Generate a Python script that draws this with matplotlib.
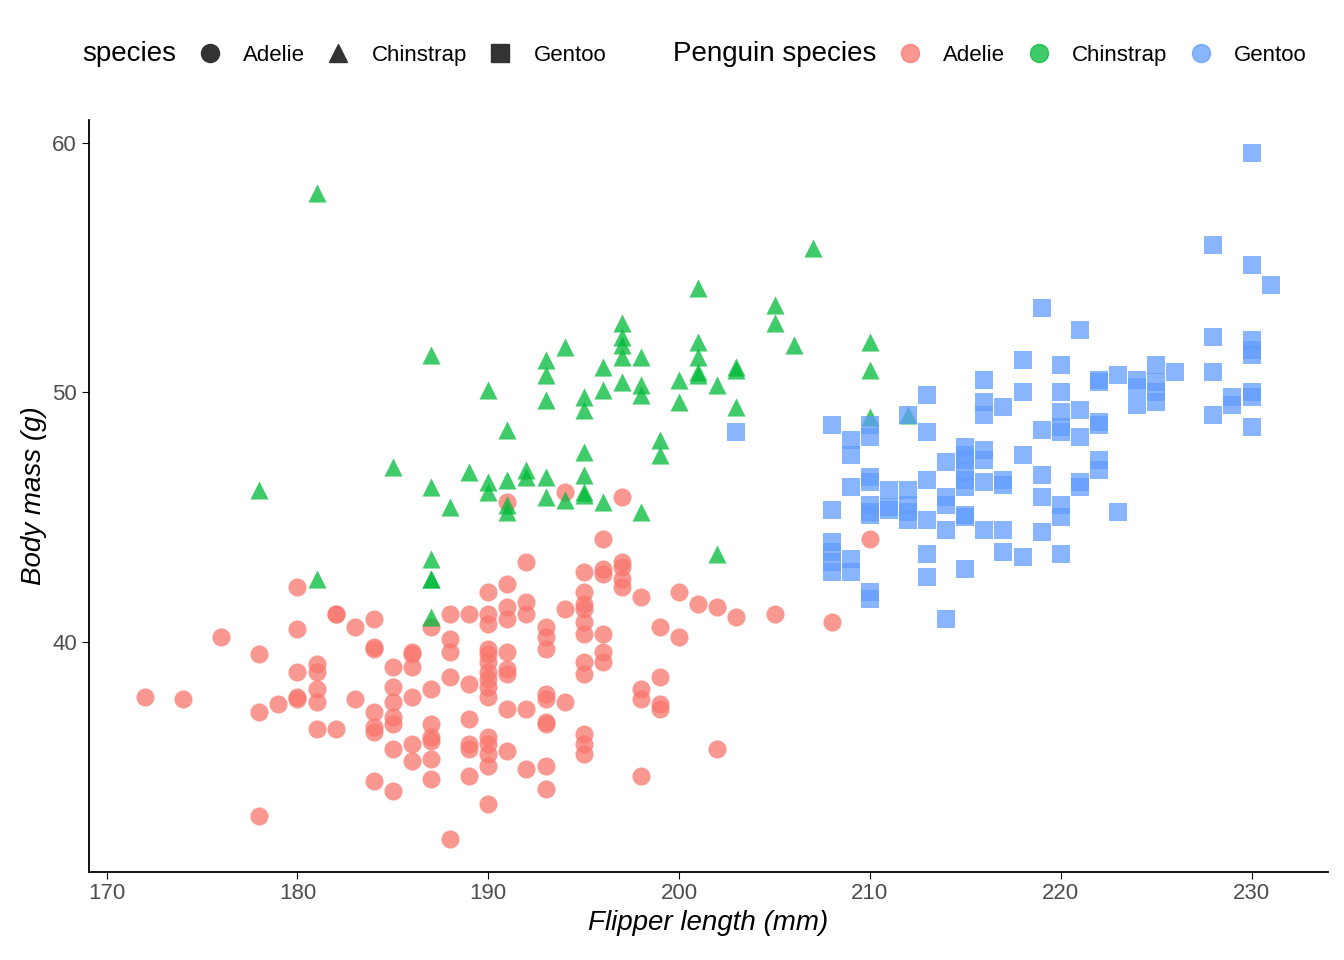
import numpy as np
import matplotlib.pyplot as plt
from matplotlib.lines import Line2D

plt.rcParams['font.family'] = ['Liberation Sans', 'DejaVu Sans']

adelie = [(172,37.8),(174,37.7),(176,40.2),(178,39.5),(178,37.2),(178,33.0),(179,37.5),(180,42.2),(180,40.5),(180,38.8),(180,37.8),(180,37.7),(181,39.1),(181,38.8),(181,38.1),(181,37.6),(181,36.5),(182,41.1),(182,41.1),(182,36.5),(183,40.6),(183,37.7),(184,40.9),(184,39.8),(184,39.7),(184,37.2),(184,36.6),(184,36.4),(184,34.4),(185,39.0),(185,38.2),(185,37.6),(185,37.0),(185,36.7),(185,35.7),(185,34.0),(186,39.6),(186,39.5),(186,39.0),(186,37.8),(186,35.9),(186,35.2),(187,40.6),(187,38.1),(187,36.7),(187,36.2),(187,36.0),(187,35.3),(187,34.5),(188,41.1),(188,40.1),(188,39.6),(188,38.6),(188,32.1),(189,41.1),(189,38.3),(189,36.9),(189,35.9),(189,35.7),(189,34.6),(190,42.0),(190,41.1),(190,40.7),(190,39.7),(190,39.5),(190,39.2),(190,38.8),(190,38.5),(190,38.2),(190,37.8),(190,36.2),(190,35.9),(190,35.5),(190,35.0),(190,33.5),(191,45.6),(191,42.3),(191,41.4),(191,40.9),(191,39.6),(191,38.9),(191,38.7),(191,37.3),(191,35.6),(192,43.2),(192,41.6),(192,41.1),(192,37.3),(192,34.9),(193,40.6),(193,40.2),(193,39.7),(193,37.9),(193,37.7),(193,36.8),(193,36.7),(193,35.0),(193,34.1),(194,46.0),(194,41.3),(194,37.6),(195,42.8),(195,42.0),(195,41.5),(195,41.3),(195,40.8),(195,40.3),(195,39.2),(195,38.7),(195,36.3),(195,35.9),(195,35.5),(196,44.1),(196,42.9),(196,42.7),(196,40.3),(196,39.6),(196,39.2),(197,45.8),(197,43.2),(197,43.0),(197,42.5),(197,42.2),(198,41.8),(198,38.1),(198,37.7),(198,34.6),(199,40.6),(199,38.6),(199,37.5),(199,37.3),(200,42.0),(200,40.2),(201,41.5),(202,41.4),(202,35.7),(203,41.0),(205,41.1),(208,40.8),(210,44.1)]

chinstrap = [(178,46.1),(181,58.0),(181,42.5),(185,47.0),(187,51.5),(187,46.2),(187,43.3),(187,42.5),(187,42.5),(187,41.0),(188,45.4),(189,46.8),(190,50.1),(190,46.4),(190,46.0),(191,48.5),(191,46.5),(191,45.5),(191,45.2),(192,46.9),(192,46.6),(193,51.3),(193,50.7),(193,49.7),(193,46.6),(193,45.8),(194,51.8),(194,45.7),(195,49.8),(195,49.3),(195,47.6),(195,46.7),(195,46.0),(195,45.9),(196,51.0),(196,50.1),(196,45.6),(197,52.8),(197,52.2),(197,51.9),(197,51.4),(197,50.4),(198,51.4),(198,50.3),(198,49.9),(198,45.2),(199,48.1),(199,47.5),(200,50.5),(200,49.6),(201,54.2),(201,52.0),(201,51.4),(201,50.8),(201,50.7),(202,50.3),(202,43.5),(203,51.0),(203,50.9),(203,49.4),(205,53.5),(205,52.8),(206,51.9),(207,55.8),(210,52.0),(210,50.9),(210,49.0),(212,49.1)]

gentoo = [(203,48.4),(208,48.7),(208,45.3),(208,44.0),(208,43.6),(208,43.2),(208,42.8),(209,48.1),(209,47.5),(209,46.2),(209,43.3),(209,42.8),(210,48.7),(210,48.2),(210,46.6),(210,46.4),(210,45.5),(210,45.2),(210,45.1),(210,42.0),(210,41.7),(211,46.1),(211,45.4),(211,45.3),(212,49.1),(212,46.1),(212,45.5),(212,45.2),(212,44.9),(213,48.4),(213,49.9),(213,46.5),(213,44.9),(213,43.5),(213,42.6),(214,47.2),(214,45.8),(214,45.5),(214,44.5),(214,40.9),(215,47.8),(215,47.5),(215,47.3),(215,46.8),(215,46.5),(215,46.2),(215,45.1),(215,45.0),(215,42.9),(216,50.5),(216,49.6),(216,49.1),(216,47.7),(216,47.3),(216,46.4),(216,44.5),(217,49.4),(217,46.5),(217,46.3),(217,44.5),(217,43.6),(218,51.3),(218,50.0),(218,47.5),(218,43.4),(219,53.4),(219,48.5),(219,46.7),(219,45.8),(219,44.4),(220,51.1),(220,50.0),(220,49.2),(220,48.6),(220,48.4),(220,45.5),(220,45.0),(220,43.5),(221,52.5),(221,49.3),(221,48.2),(221,46.4),(221,46.2),(222,50.4),(222,50.5),(222,48.8),(222,48.7),(222,47.3),(222,46.9),(223,50.7),(223,45.2),(224,50.2),(224,49.5),(224,50.5),(225,51.1),(225,50.4),(225,50.0),(225,49.6),(226,50.8),(228,55.9),(228,52.2),(228,50.8),(228,49.1),(229,49.8),(229,49.5),(230,59.6),(230,55.1),(230,52.1),(230,51.7),(230,51.5),(230,50.0),(230,49.8),(230,48.6),(231,54.3)]

species = ["Adelie", "Chinstrap", "Gentoo"]
colors = ["#F8766D", "#00BA38", "#619CFF"]
markers = ["o", "^", "s"]

fig = plt.figure(figsize=(13.44, 9.6), dpi=100)
ax = fig.add_axes([0.066, 0.092, 0.922, 0.783])

for data, c, m in zip([adelie, chinstrap, gentoo], colors, markers):
    arr = np.array(data)
    ax.scatter(arr[:, 0], arr[:, 1], s=170, c=c, marker=m, alpha=0.75, linewidths=0)

ax.set_xlim(169.06, 234.0)
ax.set_ylim(30.78, 60.92)
ax.set_xticks(range(170, 231, 10))
ax.set_yticks([40, 50, 60])
for s in ["top", "right"]:
    ax.spines[s].set_visible(False)
ax.spines["left"].set_linewidth(1.3)
ax.spines["bottom"].set_linewidth(1.3)
ax.tick_params(labelsize=16, labelcolor="#4d4d4d", length=5)
ax.set_xlabel("Flipper length (mm)", fontsize=20, style="italic")
ax.set_ylabel("Body mass (g)", fontsize=20, style="italic")

blank = Line2D([], [], linestyle="none", marker="")
handles = [blank] + [Line2D([], [], linestyle="none", marker=m, color="#333333", markersize=13) for m in markers]
handles += [blank] + [Line2D([], [], linestyle="none", marker="o", color=c, alpha=0.75, markersize=13) for c in colors]
labels = ["species"] + species + ["Penguin species"] + species
leg = fig.legend(handles, labels, ncol=8, loc="center left", bbox_to_anchor=(0.02, 0.944),
                 frameon=False, fontsize=16, handletextpad=0.9, columnspacing=0.9,
                 handlelength=1.2, borderaxespad=0)
for i in (0, 4):
    leg.get_texts()[i].set_fontsize(20)

fig.savefig("out.png", dpi=100)
